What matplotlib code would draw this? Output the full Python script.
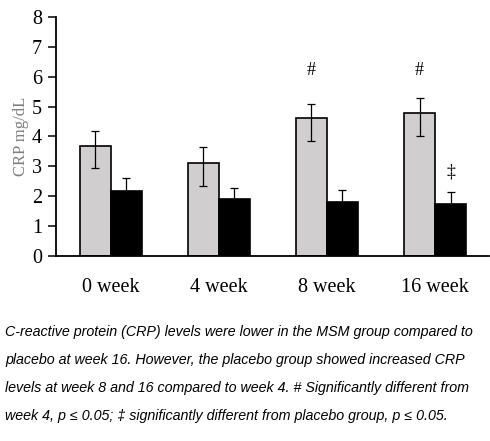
import numpy as np
import matplotlib
matplotlib.use('Agg')
import matplotlib.pyplot as plt

weeks = ['0 week', '4 week', '8 week', '16 week']
placebo = [3.68, 3.11, 4.62, 4.77]
placebo_err_lo = [0.73, 0.76, 0.76, 0.74]
placebo_err_hi = [0.51, 0.54, 0.46, 0.51]
msm = [2.19, 1.90, 1.82, 1.73]
msm_err = [0.42, 0.38, 0.40, 0.41]
marks = [('#', 2, 0, 6.2), ('#', 3, 0, 6.2), ('\u2021', 3, 1, 2.8)]

caption = ("C-reactive protein (CRP) levels were lower in the MSM group compared to\n"
           "placebo at week 16. However, the placebo group showed increased CRP\n"
           "levels at week 8 and 16 compared to week 4. # Significantly different from\n"
           "week 4, p \u2264 0.05; \u2021 significantly different from placebo group, p \u2264 0.05.")

serif = ['Liberation Serif', 'DejaVu Serif']

fig = plt.figure(figsize=(4.9, 4.41), dpi=100)
ax = fig.add_axes([0.114, 0.4195, 0.884, 0.542])

x = np.arange(len(weeks))
w = 0.287
ax.bar(x - w / 2, placebo, w, color='#d0cece', edgecolor='black', linewidth=1.2,
       yerr=[placebo_err_lo, placebo_err_hi], error_kw=dict(elinewidth=0.9, capsize=3, capthick=0.9))
ax.bar(x + w / 2, msm, w, color='black', edgecolor='black', linewidth=1.2,
       yerr=msm_err, error_kw=dict(elinewidth=0.9, capsize=3, capthick=0.9))

for sym, i, side, y in marks:
    xx = x[i] - w / 2 if side == 0 else x[i] + w / 2
    ax.text(xx, y, sym, ha='center', va='center', fontsize=13, family=serif)

ax.set_xlim(-0.51, 3.5)
ax.set_ylim(0, 8)
ax.set_yticks(range(0, 9))
ax.set_xticks(x)
ax.set_xticklabels(weeks, family=serif, fontsize=14.5)
for lab in ax.get_yticklabels():
    lab.set_family(serif)
    lab.set_fontsize(14.5)
ax.tick_params(axis='x', length=0, pad=16)
ax.tick_params(axis='y', length=6, width=1.1, pad=4)
ax.spines['top'].set_visible(False)
ax.spines['right'].set_visible(False)
ax.spines['left'].set_linewidth(1.3)
ax.spines['bottom'].set_linewidth(1.3)
ax.set_ylabel('CRP mg/dL', color='#7f7f7f', family=serif, fontsize=12, labelpad=2)

fig.text(0.01, 0.152, caption, ha='left', va='center', fontsize=10.3,
         style='italic', family=['Liberation Sans', 'DejaVu Sans'], linespacing=2.3)

fig.savefig('out.png', dpi=100)
